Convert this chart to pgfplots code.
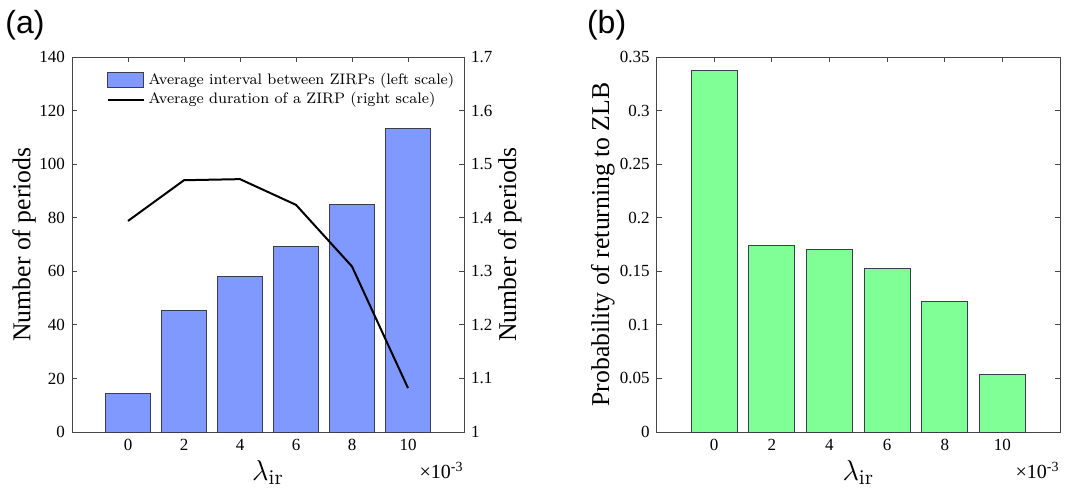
\documentclass[border=0pt]{standalone}
\usepackage{pgfplots}
\pgfplotsset{compat=1.18}
\usepackage{fontspec}
\newfontfamily\tnr{Liberation Serif}
\newfontfamily\arial{Liberation Sans}
\definecolor{barblue}{RGB}{128,153,255}
\definecolor{bargreen}{RGB}{128,255,150}
\definecolor{axcol}{RGB}{70,70,70}
\definecolor{edgecol}{RGB}{60,60,80}

\pgfplotstableread{
x avg dur
0 14.4 1.394
2 45.5 1.470
4 58.2 1.472
6 69.2 1.424
8 85.1 1.309
10 113.4 1.082
}\tableA
\pgfplotstableread{
x prob
0 0.3373
2 0.1737
4 0.1706
6 0.1525
8 0.1214
10 0.0535
}\tableB

\pgfplotsset{
  myaxis/.style={
    scale only axis,
    xmin=-2, xmax=12,
    xtick={0,2,4,6,8,10},
    tick align=inside,
    major tick length=2.5pt,
    axis line style={axcol, line width=0.4pt},
    every tick/.style={axcol, line width=0.4pt},
    tick label style={font=\tnr\fontsize{8.5}{10}\selectfont},
    /pgf/number format/assume math mode=true,
    /pgf/number format/fixed,
    scaled y ticks=false,
    label style={font=\tnr\fontsize{12.85}{15}\selectfont},
    xlabel style={font=\fontsize{15}{18}\selectfont, at={(axis description cs:0.5,-0.108)}, anchor=center},
  },
}

\begin{document}
\begin{tikzpicture}
\path[use as bounding box] (0,0) rectangle (532.5pt,244.5pt);
\node[font=\arial\fontsize{16}{18}\selectfont] at (12.5pt,232pt) {(a)};
\node[font=\arial\fontsize{16}{18}\selectfont] at (303.3pt,232pt) {(b)};

% Left panel, left scale
\begin{axis}[myaxis,
  at={(36pt,28.5pt)}, anchor=south west,
  width=196pt, height=187.5pt,
  ymin=0, ymax=140, ytick={0,20,...,140},
  ytick pos=left, xtick pos=both,
  ylabel={Number of periods},
  ylabel style={at={(axis description cs:-0.122,0.5)}, anchor=center},
  xlabel={$\lambda_{\mathrm{ir}}$},
  clip=false,
]
\addplot[ybar, bar width=1.6, fill=barblue, draw=edgecol, line width=0.5pt] table[x=x, y=avg] {\tableA};
\node[anchor=east, font=\tnr\fontsize{10}{12}\selectfont, inner sep=0pt] at (rel axis cs:1,-0.102) {×10\textsuperscript{-3}};
\end{axis}

% Left panel, right scale
\begin{axis}[myaxis,
  at={(36pt,28.5pt)}, anchor=south west,
  width=196pt, height=187.5pt,
  ymin=1, ymax=1.7, ytick={1,1.1,...,1.7},
  yticklabels={1,1.1,1.2,1.3,1.4,1.5,1.6,1.7},
  axis y line*=right, axis x line=none,
  ylabel={Number of periods},
  ylabel style={at={(axis description cs:1.117,0.5)}, anchor=center, rotate=0},
  legend style={at={(0.072,0.98)}, anchor=north west, draw=none, fill=none,
    font=\fontsize{7.6}{9.2}\selectfont, row sep=-1.5pt,
    legend cell align=left},
]
\addlegendimage{legend image code/.code={\draw[fill=barblue, draw=edgecol, line width=0.5pt] (0pt,-3.6pt) rectangle (18pt,3.6pt);}}
\addlegendentry{Average interval between ZIRPs (left scale)}
\addplot[black, line width=1pt, mark=none,
  legend image code/.code={\draw[black, line width=1pt] (0pt,0pt) -- (18pt,0pt);}] table[x=x, y=dur] {\tableA};
\addlegendentry{Average duration of a ZIRP (right scale)}
\end{axis}

% Right panel
\begin{axis}[myaxis,
  at={(328.3pt,28.5pt)}, anchor=south west,
  width=201.7pt, height=187.5pt,
  ymin=0, ymax=0.35, ytick={0,0.05,...,0.35},
  yticklabels={0,0.05,0.1,0.15,0.2,0.25,0.3,0.35},
  ytick pos=both, xtick pos=both,
  ylabel={Probability of returning to ZLB},
  ylabel style={at={(axis description cs:-0.133,0.5)}, anchor=center},
  xlabel={$\lambda_{\mathrm{ir}}$},
  clip=false,
]
\addplot[ybar, bar width=1.6, fill=bargreen, draw=edgecol, line width=0.5pt] table[x=x, y=prob] {\tableB};
\node[anchor=east, font=\tnr\fontsize{10}{12}\selectfont, inner sep=0pt] at (rel axis cs:1,-0.102) {×10\textsuperscript{-3}};
\end{axis}
\end{tikzpicture}
\end{document}
